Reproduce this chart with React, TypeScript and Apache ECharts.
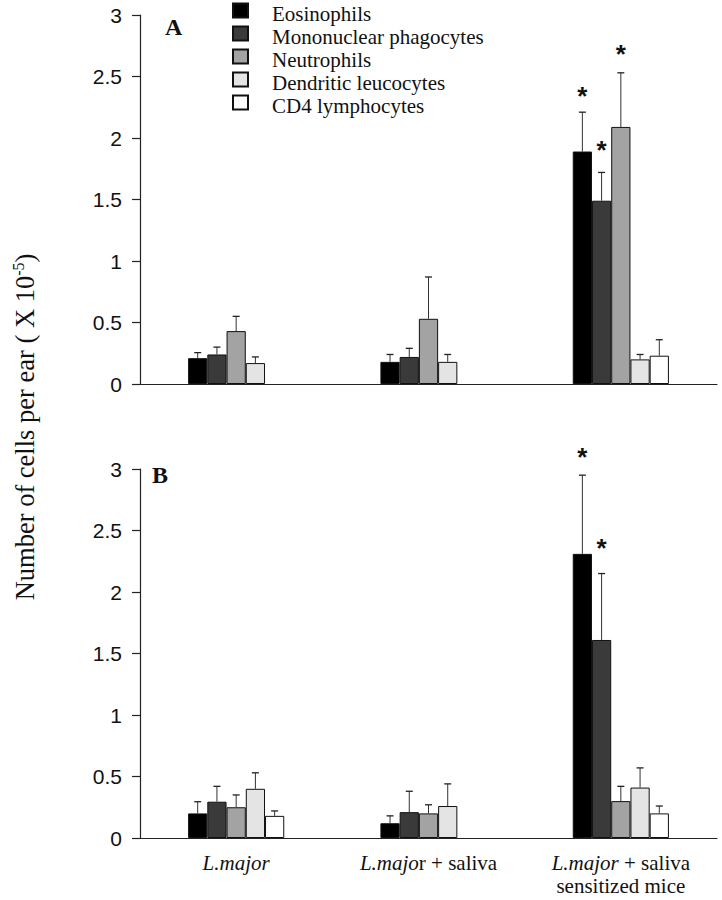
import React, { useEffect, useRef } from 'react';
import * as echarts from 'echarts';

// ---------- data ----------
const categories = ['L.major', 'L.major + saliva', 'L.major + saliva sensitized mice'];
const categoryLabels = [
  '{i|L.major}',
  '{i|L.majo}{r|r + saliva}',
  '{i|L.major}{r| + saliva}\n{r|sensitized mice}',
];
const cellTypes = [
  'Eosinophils',
  'Mononuclear phagocytes',
  'Neutrophils',
  'Dendritic leucocytes',
  'CD4 lymphocytes',
];
const cellColors = ['#000000', '#3a3a3a', '#a3a3a3', '#e4e4e4', '#ffffff'];
const yTicks = [0, 0.5, 1, 1.5, 2, 2.5, 3];

// Panel A: means
const aEosinophils = [0.21, 0.18, 1.89];
const aMononuclear = [0.24, 0.22, 1.49];
const aNeutrophils = [0.43, 0.53, 2.09];
const aDendritic = [0.17, 0.18, 0.2];
const aCD4 = [null, null, 0.23];
// Panel A: upper end of error bars
const aEosinophilsUp = [0.255, 0.24, 2.21];
const aMononuclearUp = [0.3, 0.29, 1.72];
const aNeutrophilsUp = [0.55, 0.87, 2.53];
const aDendriticUp = [0.22, 0.24, 0.24];
const aCD4Up = [null, null, 0.36];
// Panel A: significance stars [category, cell type, height]
const aStars = [
  [2, 0, 2.34],
  [2, 1, 1.9],
  [2, 2, 2.68],
];

// Panel B: means
const bEosinophils = [0.2, 0.12, 2.31];
const bMononuclear = [0.295, 0.21, 1.61];
const bNeutrophils = [0.25, 0.2, 0.3];
const bDendritic = [0.4, 0.26, 0.41];
const bCD4 = [0.18, null, 0.2];
// Panel B: upper end of error bars
const bEosinophilsUp = [0.295, 0.18, 2.95];
const bMononuclearUp = [0.42, 0.38, 2.15];
const bNeutrophilsUp = [0.35, 0.27, 0.42];
const bDendriticUp = [0.53, 0.44, 0.57];
const bCD4Up = [0.22, null, 0.26];
// Panel B: significance stars
const bStars = [
  [2, 0, 3.1],
  [2, 1, 2.36],
];

const yTitle = 'Number of cells per ear ( X 10';
const yTitleSup = '-5';
const panelLabels = ['A', 'B'];

// ---------- helpers ----------
const N = cellTypes.length;
const CAT_GAP = 0.5;

function barX(api: any, cat: number, s: number, v: number) {
  const p = api.coord([cat, v]);
  const band = api.size([1, 0])[0];
  const bw = (band * (1 - CAT_GAP)) / N;
  return [p[0] - (N / 2) * bw + bw * (s + 0.5), p[1]];
}

function errData(means: (number | null)[][], ups: (number | null)[][]) {
  const out: number[][] = [];
  means.forEach((arr, s) =>
    arr.forEach((m, c) => {
      const u = ups[s][c];
      if (m != null && u != null) out.push([c, s, m, u]);
    })
  );
  return out;
}

const errRender = (_params: any, api: any) => {
  const c = api.value(0);
  const s = api.value(1);
  const [x, y0] = barX(api, c, s, api.value(2));
  const [, y1] = barX(api, c, s, api.value(3));
  const cap = 3.5;
  return {
    type: 'group',
    children: [
      { type: 'line', shape: { x1: x, y1: y0, x2: x, y2: y1 }, style: { stroke: '#333', lineWidth: 1 } },
      { type: 'line', shape: { x1: x - cap, y1: y1, x2: x + cap, y2: y1 }, style: { stroke: '#222', lineWidth: 1.3 } },
    ],
  };
};

const starRender = (_params: any, api: any) => {
  const [x, y] = barX(api, api.value(0), api.value(1), api.value(2));
  return {
    type: 'text',
    x,
    y,
    style: {
      text: '*',
      fontFamily: 'Liberation Sans',
      fontWeight: 'bold',
      fontSize: 26,
      fill: '#111',
      align: 'center',
      verticalAlign: 'middle',
    },
  };
};

export default function App() {
  const ref = useRef<HTMLDivElement>(null);

  useEffect(() => {
    document.body.style.margin = '0';
    const chart = echarts.init(ref.current!, null, { renderer: 'svg' });

    const aMeans = [aEosinophils, aMononuclear, aNeutrophils, aDendritic, aCD4];
    const aUps = [aEosinophilsUp, aMononuclearUp, aNeutrophilsUp, aDendriticUp, aCD4Up];
    const bMeans = [bEosinophils, bMononuclear, bNeutrophils, bDendritic, bCD4];
    const bUps = [bEosinophilsUp, bMononuclearUp, bNeutrophilsUp, bDendriticUp, bCD4Up];

    const yAxisCommon = {
      type: 'value',
      min: 0,
      max: 3,
      interval: 0.5,
      splitLine: { show: false },
      axisLine: { show: true, lineStyle: { color: '#222', width: 1.2 } },
      axisTick: { show: true, length: 8, lineStyle: { color: '#222', width: 1.2 } },
      axisLabel: {
        margin: 18,
        fontFamily: 'Liberation Sans',
        fontSize: 21,
        color: '#111',
        formatter: (v: number) => (yTicks.includes(v) ? String(v) : ''),
      },
    };

    const xAxisCommon = {
      type: 'category',
      data: categories,
      axisTick: { show: false },
      axisLine: { show: true, lineStyle: { color: '#222', width: 1.2 } },
    };

    const barSeries = (means: (number | null)[][], gi: number) =>
      means.map((d, s) => ({
        name: cellTypes[s],
        type: 'bar',
        xAxisIndex: gi,
        yAxisIndex: gi,
        data: d,
        barGap: '0%',
        barCategoryGap: '50%',
        itemStyle: { color: cellColors[s], borderColor: '#111', borderWidth: 1 },
      }));

    chart.setOption({
      animation: false,
      backgroundColor: '#ffffff',
      legend: {
        orient: 'vertical',
        left: 232,
        top: -3,
        padding: 0,
        itemWidth: 15,
        itemHeight: 14,
        itemGap: -4,
        icon: 'rect',
        selectedMode: false,
        data: cellTypes,
        formatter: (name: string) => `{t|${name}}`,
        textStyle: {
          rich: {
            t: {
              fontFamily: 'Liberation Serif',
              fontSize: 21,
              lineHeight: 21,
              padding: [6, 0, 0, 19],
              color: '#111',
            },
          },
        },
      },
      grid: [
        { left: 140, right: 5, top: 15, height: 369 },
        { left: 140, right: 5, top: 469, height: 369 },
      ],
      xAxis: [
        { ...xAxisCommon, gridIndex: 0, axisLabel: { show: false } },
        {
          ...xAxisCommon,
          gridIndex: 1,
          axisLabel: {
            margin: 13,
            interval: 0,
            formatter: (_v: string, i: number) => categoryLabels[i],
            rich: {
              i: { fontFamily: 'Liberation Serif', fontStyle: 'italic', fontSize: 21, lineHeight: 23, color: '#111' },
              r: { fontFamily: 'Liberation Serif', fontSize: 21, lineHeight: 23, color: '#111' },
            },
          },
        },
      ],
      yAxis: [
        { ...yAxisCommon, gridIndex: 0 },
        { ...yAxisCommon, gridIndex: 1 },
      ],
      series: [
        ...barSeries(aMeans, 0),
        ...barSeries(bMeans, 1),
        {
          type: 'custom',
          xAxisIndex: 0,
          yAxisIndex: 0,
          z: 5,
          data: errData(aMeans, aUps),
          renderItem: errRender,
          silent: true,
        },
        {
          type: 'custom',
          xAxisIndex: 1,
          yAxisIndex: 1,
          z: 5,
          data: errData(bMeans, bUps),
          renderItem: errRender,
          silent: true,
        },
        {
          type: 'custom',
          xAxisIndex: 0,
          yAxisIndex: 0,
          z: 6,
          data: aStars,
          renderItem: starRender,
          silent: true,
        },
        {
          type: 'custom',
          xAxisIndex: 1,
          yAxisIndex: 1,
          z: 6,
          clip: false,
          data: bStars,
          renderItem: starRender,
          silent: true,
        },
      ],
      graphic: [
        {
          type: 'text',
          x: 165,
          y: 15,
          style: {
            text: panelLabels[0],
            fontFamily: 'Liberation Serif',
            fontWeight: 'bold',
            fontSize: 24,
            fill: '#111',
            align: 'left',
            verticalAlign: 'top',
          },
        },
        {
          type: 'text',
          x: 152,
          y: 463,
          style: {
            text: panelLabels[1],
            fontFamily: 'Liberation Serif',
            fontWeight: 'bold',
            fontSize: 24,
            fill: '#111',
            align: 'left',
            verticalAlign: 'top',
          },
        },
        {
          type: 'text',
          x: 25,
          y: 427,
          rotation: Math.PI / 2,
          style: {
            text: `{a|${yTitle}}{s|${yTitleSup}}{a|)}`,
            align: 'center',
            verticalAlign: 'middle',
            rich: {
              a: { fontFamily: 'Liberation Serif', fontSize: 26.5, lineHeight: 30, fill: '#111' },
              s: { fontFamily: 'Liberation Serif', fontSize: 16, lineHeight: 30, verticalAlign: 'top', fill: '#111' },
            },
          },
        },
      ],
    });

    return () => chart.dispose();
  }, []);

  return <div ref={ref} style={{ width: 722, height: 900 }} />;
}
